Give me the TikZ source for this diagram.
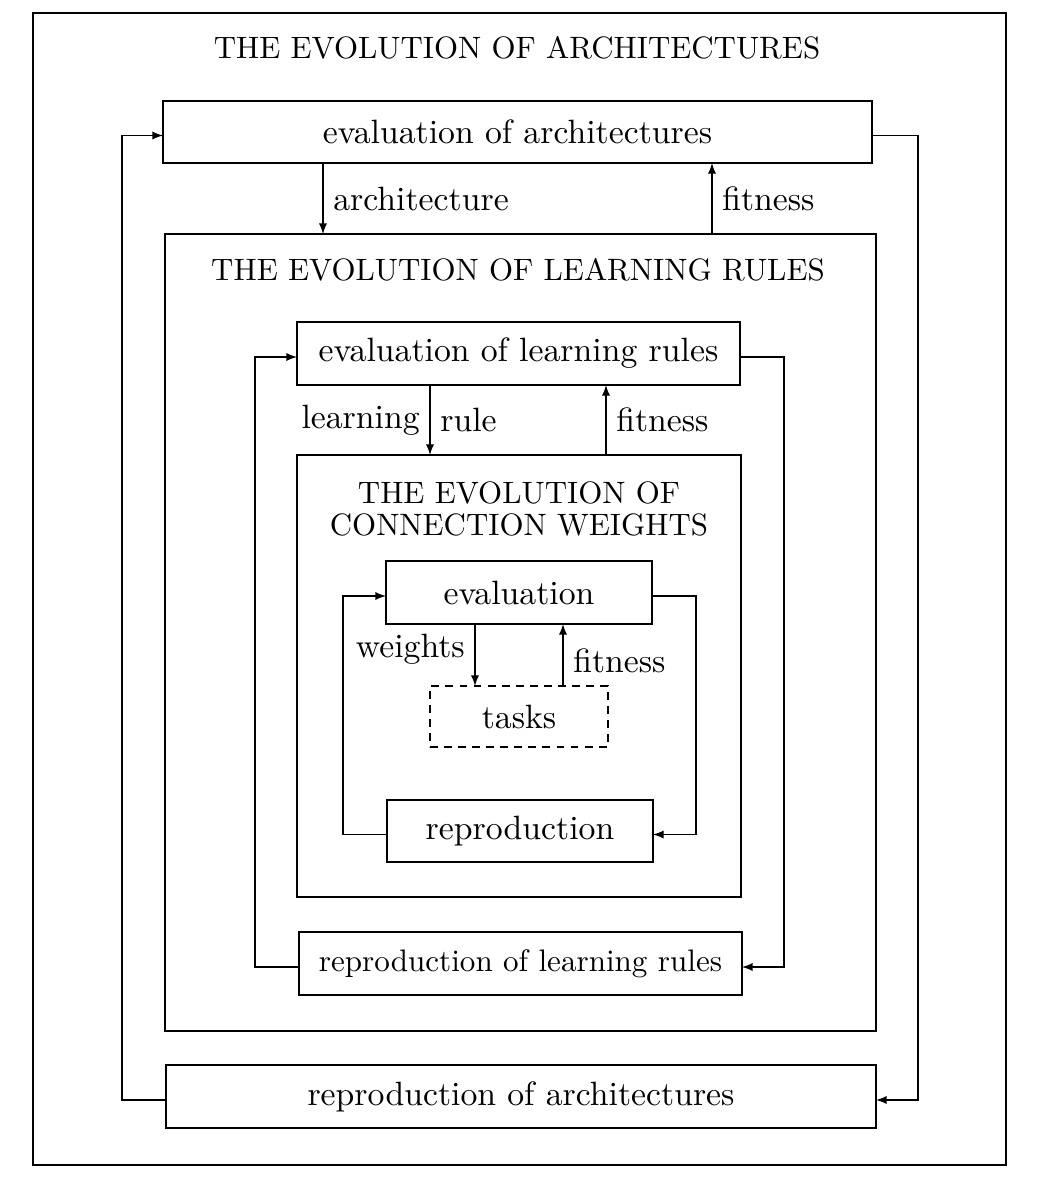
\documentclass[tikz,border=0pt]{standalone}
\usepackage{tikz}
\usepackage{graphicx}
\usetikzlibrary{arrows,positioning}

\newcommand{\boxtext}[2][1.92]{\scalebox{#1}{#2}}

\begin{document}
\begin{tikzpicture}[x=0.02cm, y=-0.02cm, >=latex, line width=1.1pt,
    box/.style={draw, inner sep=0pt, outer sep=0pt, font=\fontsize{10}{12}\selectfont},
    lbl/.style={font=\fontsize{10}{12}\selectfont, inner sep=2.5pt, scale=1.92},
    title/.style={font=\fontsize{10}{10.6}\selectfont, scale=1.76}]
    \useasboundingbox (0,0) rectangle (1038,1177);

    % Define frames
    \node[box, minimum width=19.46cm, minimum height=23.04cm] (outer) at (519.5,589) {};
    \node[box, minimum width=14.22cm, minimum height=15.94cm] (lrframe) at (520.5,632.5) {};
    \node[box, minimum width=8.88cm, minimum height=8.84cm] (cwframe) at (519,676) {};

    % Titles
    \node[title] (archtitle) at (517,48) {THE EVOLUTION OF ARCHITECTURES};
    \node[title] (lrtitle) at (518,270) {THE EVOLUTION OF LEARNING RULES};
    \node[title, align=center] (cwtitle) at (519,509) {THE EVOLUTION OF\\CONNECTION WEIGHTS};

    % Define nodes
    \node[box, minimum width=14.18cm, minimum height=1.24cm] (evalarch) at (517.5,132) {\boxtext{evaluation of architectures}};
    \node[box, minimum width=14.2cm, minimum height=1.26cm] (reproarch) at (521,1096.5) {\boxtext{reproduction of architectures}};
    \node[box, minimum width=8.86cm, minimum height=1.26cm] (evallr) at (518.5,353.5) {\boxtext{evaluation of learning rules}};
    \node[box, minimum width=8.86cm, minimum height=1.26cm] (reprolr) at (520.5,963.5) {\boxtext[1.77]{reproduction of learning rules}};
    \node[box, minimum width=5.32cm, minimum height=1.26cm] (eval) at (519,592.5) {\boxtext{evaluation}};
    \node[box, minimum width=5.32cm, minimum height=1.24cm] (repro) at (520,831) {\boxtext{reproduction}};
    \node[box, dash pattern=on 4.5pt off 3.5pt, minimum width=3.56cm, minimum height=1.22cm] (tasks) at (519,716.5) {\boxtext{tasks}};

    % Vertical arrows
    \draw[->] (evalarch.south -| 323,0) -- (lrframe.north -| 323,0)
        node[lbl, midway, right] (archlbl) {architecture};
    \draw[->] (lrframe.north -| 712,0) -- (evalarch.south -| 712,0)
        node[lbl, midway, right] (fitarch) {fitness};
    \draw[->] (evallr.south -| 430,0) -- (cwframe.north -| 430,0)
        node[lbl, midway, left] (learnlbl) {learning}
        node[lbl, midway, right] (rulelbl) {rule};
    \draw[->] (cwframe.north -| 606,0) -- (evallr.south -| 606,0)
        node[lbl, midway, right] (fitlr) {fitness};
    \draw[->] (eval.south -| 475,0) -- (tasks.north -| 475,0)
        node[lbl, pos=0.4, left] (wlbl) {weights};
    \draw[->] (tasks.north -| 563,0) -- (eval.south -| 563,0)
        node[lbl, pos=0.4, right] (fitcw) {fitness};

    % Loops
    \draw[->] ([yshift=-2pt]evalarch.east) -- ++(46,0) |- ([yshift=-2pt]reproarch.east);
    \draw[->] ([yshift=-2pt]reproarch.west) -- ++(-44,0) |- ([yshift=-2pt]evalarch.west);
    \draw[->] ([yshift=-2pt]evallr.east) -- ++(44,0) |- ([yshift=-2pt]reprolr.east);
    \draw[->] ([yshift=-2pt]reprolr.west) -- ++(-44,0) |- ([yshift=-2pt]evallr.west);
    \draw[->] ([yshift=-2pt]eval.east) -- ++(44,0) |- ([yshift=-2pt]repro.east);
    \draw[->] ([yshift=-2pt]repro.west) -- ++(-44,0) |- ([yshift=-2pt]eval.west);
\end{tikzpicture}
\end{document}
